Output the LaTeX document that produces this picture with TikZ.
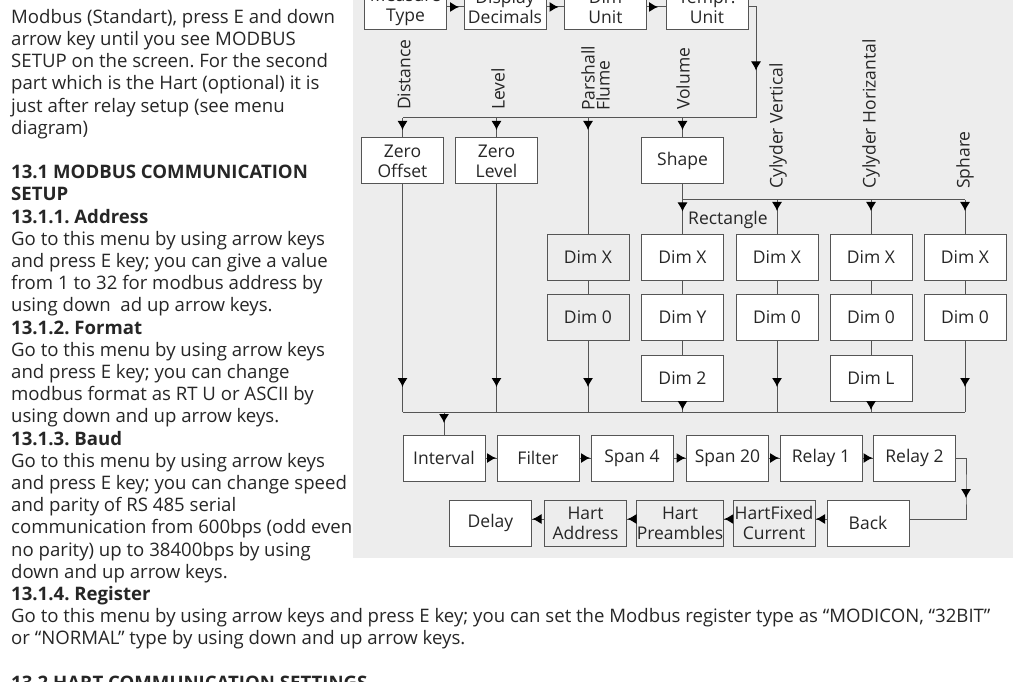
\documentclass[tikz,border=0pt]{standalone}
\usepackage{fontspec}
\setmainfont{Open Sans}
\usetikzlibrary{arrows.meta,decorations.markings}
\definecolor{bg}{HTML}{EDEDED}
\definecolor{ln}{HTML}{555555}
\definecolor{txt}{HTML}{262626}
\frenchspacing
\begin{document}
\frenchspacing
\begin{tikzpicture}[x=1pt,y=-1pt,
  box/.style={draw=ln,line width=1pt,fill=white,minimum width=82pt,minimum height=46pt,inner sep=0pt,align=center,font=\fontsize{17.5}{20}\selectfont,text=txt},
  gbox/.style={box,fill=none},
  conn/.style={draw=ln,line width=1pt},
  marr/.style={postaction={decorate},decoration={markings,mark=at position #1 with {\arrow{Latex[length=9pt,width=10pt,color=black]}}}},
  lbl/.style={rotate=90,anchor=west,inner sep=0pt,font=\fontsize{17.5}{15}\selectfont,text=txt},
  body/.style={anchor=base west,inner sep=0pt,font=\fontsize{18.6}{22}\selectfont,text=txt},
  head/.style={anchor=base west,inner sep=0pt,font=\fontsize{18.6}{22}\selectfont\bfseries,text=txt}]
\useasboundingbox (0,0) rectangle (1018,682);
\clip (0,0) rectangle (1018,682);
% background panel
\fill[bg] (353,-5) rectangle (1013,558);
% body text
\node[body] (t1) at (11,23.3) {Modbus (Standart), press E and down};
\node[body] (t2) at (11,45.5) {arrow key until you see MODBUS};
\node[body] (t3) at (11,67.7) {SETUP on the screen. For the second};
\node[body] (t4) at (11,89.9) {part which is the Hart (optional) it is};
\node[body] (t5) at (11,112.1) {just after relay setup (see menu};
\node[body] (t6) at (11,134.3) {diagram)};
\node[head] (h1) at (11,178.7) {13.1 MODBUS COMMUNICATION};
\node[head] (h1b) at (11,200.9) {SETUP};
\node[head] (h2) at (11,223.1) {13.1.1. Address};
\node[body] (a1) at (11,245.3) {Go to this menu by using arrow keys};
\node[body] (a2) at (11,267.5) {and press E key; you can give a value};
\node[body] (a3) at (11,289.7) {from 1 to 32 for modbus address by};
\node[body] (a4) at (11,311.9) {using down\ \ ad up arrow keys.};
\node[head] (h3) at (11,334.1) {13.1.2. Format};
\node[body] (f1) at (11,356.3) {Go to this menu by using arrow keys};
\node[body] (f2) at (11,378.5) {and press E key; you can change};
\node[body] (f3) at (11,400.7) {modbus format as RT U or ASCII by};
\node[body] (f4) at (11,422.9) {using down and up arrow keys.};
\node[head] (h4) at (11,445.1) {13.1.3. Baud};
\node[body] (b1) at (11,467.3) {Go to this menu by using arrow keys};
\node[body] (b2) at (11,489.5) {and press E key; you can change speed};
\node[body] (b3) at (11,511.7) {and parity of RS 485 serial};
\node[body] (b4) at (11,533.9) {communication from 600bps (odd even};
\node[body] (b5) at (11,556.1) {no parity) up to 38400bps by using};
\node[body] (b6) at (11,578.3) {down and up arrow keys.};
\node[head] (h5) at (11,600.5) {13.1.4. Register};
\node[body] (r1) at (11,622.7) {Go to this menu by using arrow keys and press E key; you can set the Modbus register type as “MODICON, “32BIT”};
\node[body] (r2) at (11,644.9) {or “NORMAL” type by using down and up arrow keys.};
\node[head] (h6) at (11,689.6) {13.2 HART COMMUNICATION SETTINGS};
% top row
\node[box] (mt) at (405.5,7) {Measure\\Type};
\node[box] (dd) at (505,7) {Display\\Decimals};
\node[box] (du) at (605.5,7) {Dim\\Unit};
\node[box] (tu) at (707,7) {Tempr.\\Unit};
% second row
\node[box] (zo) at (402.5,161) {Zero\\Offset};
\node[box] (zl) at (496.5,161) {Zero\\Level};
\node[box] (sh) at (682.5,161) {Shape};
% dim columns
\node[gbox] (dx1) at (588,257) {Dim X};
\node[gbox] (d01) at (588,317) {Dim 0};
\node[box] (dx2) at (682.5,257) {Dim X};
\node[box] (dy2) at (682.5,317) {Dim Y};
\node[box] (dz2) at (682.5,378) {Dim 2};
\node[box] (dx3) at (777,257) {Dim X};
\node[box] (d03) at (777,317) {Dim 0};
\node[box] (dx4) at (871,257) {Dim X};
\node[box] (d04) at (871,317) {Dim 0};
\node[box] (dl4) at (871,378) {Dim L};
\node[box] (dx5) at (965,257) {Dim X};
\node[box] (d05) at (965,317) {Dim 0};
% row 3
\node[box] (int) at (444,458) {Interval};
\node[box] (fil) at (538,458) {Filter};
\node[box] (sp4) at (632,458) {Span 4};
\node[box] (sp20) at (727.5,458) {Span 20};
\node[box] (rl1) at (821,458) {Relay 1};
\node[box] (rl2) at (914.5,458) {Relay 2};
% row 4
\node[box] (del) at (490.5,523) {Delay};
\node[gbox] (hadr) at (585.5,523) {Hart\\Address};
\node[gbox] (hpre) at (680,523) {Hart\\Preambles};
\node[gbox] (hfc) at (774,523) {HartFixed\\Current};
\node[box] (back) at (868,523) {Back};
% bus coordinates
\coordinate (busA) at (756,118);
\coordinate (busB) at (683,200);
\coordinate (busC) at (403,412);
\coordinate (turn) at (966,490);
% top row connectors
\draw[conn,marr=12pt] (mt.east) -- (dd.west);
\draw[conn,marr=12pt] (dd.east) -- (du.west);
\draw[conn,marr=11pt] (du.east) -- (tu.west);
\draw[conn,marr=71pt] (tu.east) -| (busA);
\draw[conn] (busA) -- (zo.north |- busA);
\draw[conn,marr=12pt] (zo.north |- busA) -- (zo.north);
\draw[conn,marr=12pt] (zl.north |- busA) -- (zl.north);
\draw[conn,marr=12pt] (dx1.north |- busA) -- (dx1.north);
\draw[conn,marr=12pt] (sh.north |- busA) -- (sh.north);
% labels on first bus
\node[lbl] (lDist) at (404,110) {Distance};
\node[lbl] (lLev) at (498,110) {Level};
\node[lbl,anchor=north west,align=left] (lPar) at (581,111) {Parshall\\Flume};
\node[lbl] (lVol) at (683,110) {Volume};
% shape bus
\draw[conn,marr=27pt] (sh.south) -- (dx2.north);
\draw[conn] (sh.south |- busB) -- (dx5.north |- busB);
\draw[conn,marr=11pt] (dx3.north |- busB) -- (dx3.north);
\draw[conn,marr=11pt] (dx4.north |- busB) -- (dx4.north);
\draw[conn,marr=11pt] (dx5.north |- busB) -- (dx5.north);
\node[lbl] (lCV) at (778,189) {Cylyder Vertical};
\node[lbl] (lCH) at (871,189) {Cylyder Horizantal};
\node[lbl] (lSph) at (965,189) {Sphare};
\node[anchor=base west,inner sep=0pt,font=\fontsize{17.5}{20}\selectfont,text=txt] (lRect) at (688,224) {Rectangle};
% column links
\draw[conn] (dx1) -- (d01);
\draw[conn] (dx2) -- (dy2);
\draw[conn] (dy2) -- (dz2);
\draw[conn] (dx3) -- (d03);
\draw[conn] (dx4) -- (d04);
\draw[conn] (d04) -- (dl4);
\draw[conn] (dx5) -- (d05);
% bottom bus
\draw[conn,marr=-25pt] (zo.south) -- (zo.south |- busC);
\draw[conn,marr=-25pt] (zl.south) -- (zl.south |- busC);
\draw[conn,marr=-25pt] (d01.south) -- (d01.south |- busC);
\draw[conn,marr=-2pt] (dz2.south) -- (dz2.south |- busC);
\draw[conn,marr=-25pt] (d03.south) -- (d03.south |- busC);
\draw[conn,marr=-2pt] (dl4.south) -- (dl4.south |- busC);
\draw[conn,marr=-25pt] (d05.south) -- (d05.south |- busC);
\draw[conn] (zo.south |- busC) -- (d05.south |- busC);
\draw[conn,marr=11pt] (int.north |- busC) -- (int.north);
% row 3 connectors
\draw[conn,marr=-0.5pt] (int.east) -- (fil.west);
\draw[conn,marr=-0.5pt] (fil.east) -- (sp4.west);
\draw[conn,marr=-0.5pt] (sp4.east) -- (sp20.west);
\draw[conn,marr=-0.5pt] (sp20.east) -- (rl1.west);
\draw[conn,marr=-0.5pt] (rl1.east) -- (rl2.west);
\draw[conn,marr=50pt] (rl2.east) -| (turn) |- ([yshift=4pt]back.east);
% row 4 connectors
\draw[conn,marr=-0.5pt] ([yshift=4pt]back.west) -- ([yshift=4pt]hfc.east);
\draw[conn,marr=-0.5pt] ([yshift=4pt]hfc.west) -- ([yshift=4pt]hpre.east);
\draw[conn,marr=-0.5pt] ([yshift=4pt]hpre.west) -- ([yshift=4pt]hadr.east);
\draw[conn,marr=-0.5pt] ([yshift=4pt]hadr.west) -- ([yshift=4pt]del.east);
\end{tikzpicture}
\end{document}
